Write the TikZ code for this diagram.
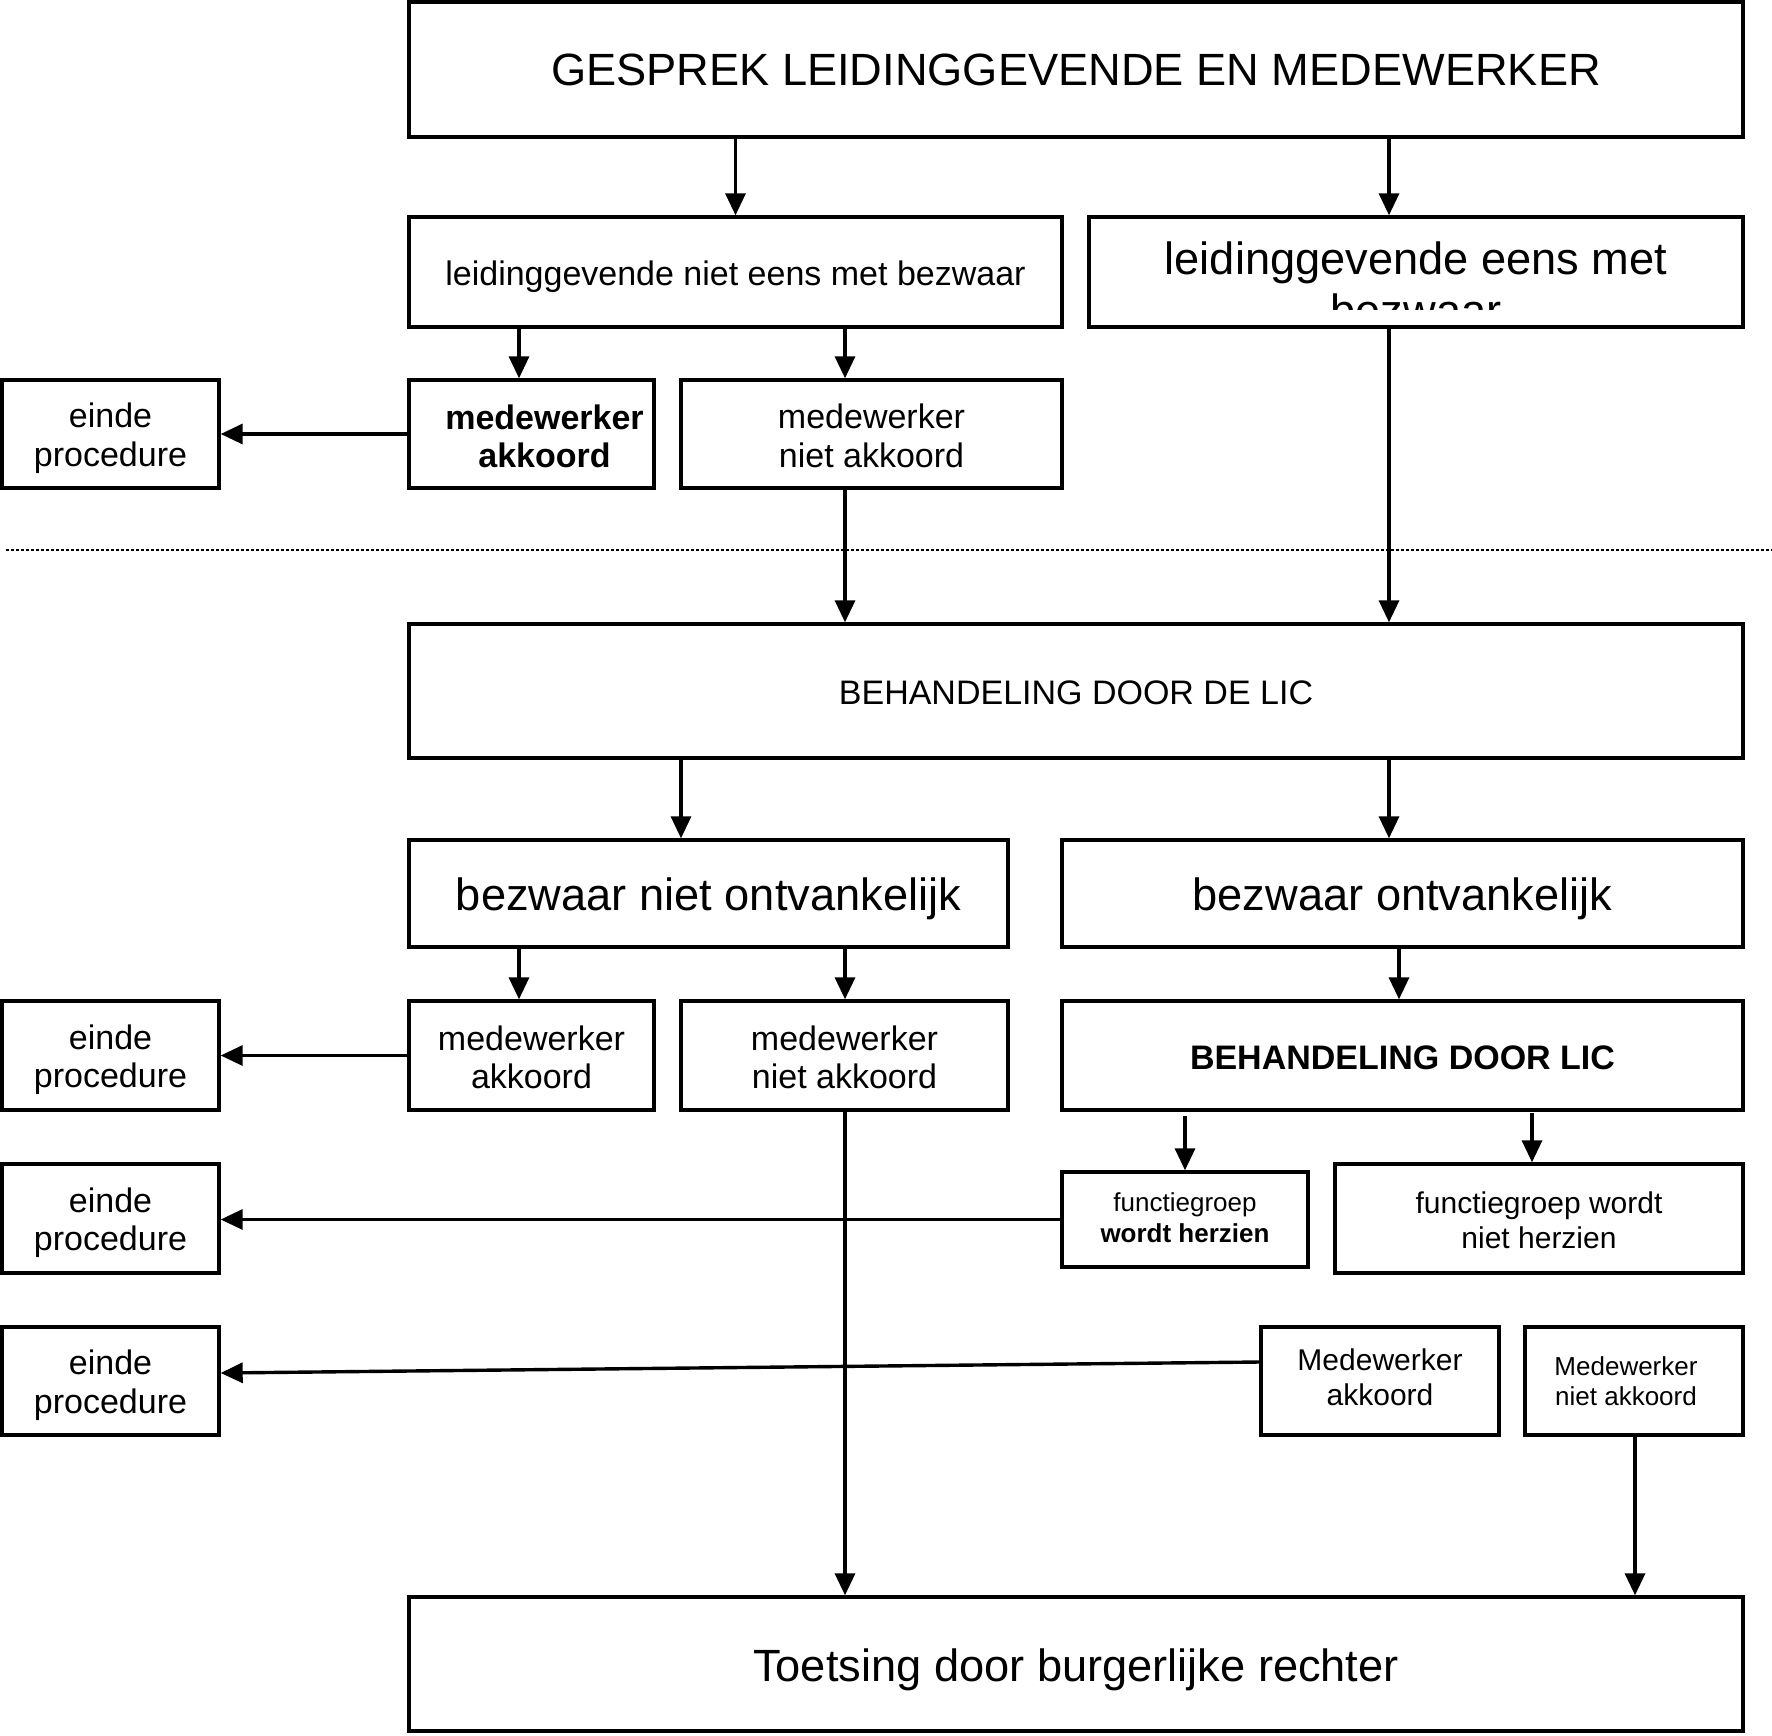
\documentclass[tikz,border=0pt]{standalone}
\usepackage{fontspec}
\setmainfont{Liberation Sans}
\usetikzlibrary{arrows.meta}
\newcommand\fszA{\fontsize{22.6}{26}\selectfont}
\newcommand\fszB{\fontsize{17}{19.2}\selectfont}
\newcommand\fszC{\fontsize{15}{17.5}\selectfont}
\newcommand\fszD{\fontsize{13}{15.3}\selectfont}
\tikzset{
  box/.style={draw, line width=1.7pt, inner sep=0pt},
  arr/.style={line width=1.7pt, -{Triangle[width=10pt,length=11pt]}},
  txt/.style={inner sep=0pt, align=center}
}
\begin{document}
\begin{tikzpicture}[x=0.5pt,y=-0.5pt]
\useasboundingbox (0,0) rectangle (1772,1735);
% column coordinates
\coordinate (xA) at (519,0);
\coordinate (xB) at (845,0);
\coordinate (xC) at (1389,0);
\coordinate (xD) at (681,0);
\coordinate (xE) at (1399,0);
\coordinate (xH) at (1635,0);
\coordinate (fhs) at (1185,1116);
\coordinate (fnhs) at (1532,1113);

% boxes and texts
\node[box, minimum width=667pt, minimum height=67.5pt] (top) at (1076,69.5) {};
\node[txt, font=\fszA] (top-t) at (top.center) {GESPREK LEIDINGGEVENDE EN MEDEWERKER};

\node[box, minimum width=326.5pt, minimum height=55pt] (lnot) at (735.5,272) {};
\node[txt, font=\fszB] (lnot-t) at ([yshift=-2.2pt]lnot.center) {leidinggevende niet eens met bezwaar};

\node[box, minimum width=327pt, minimum height=55pt] (leens) at (1416,272) {};
\begin{scope}
  \clip (1089,218) rectangle (1743,309);
  \node[txt, anchor=north, font=\fszA] (leens-t) at (1416,241) {leidinggevende eens met\\bezwaar};
\end{scope}

\node[box, minimum width=108.5pt, minimum height=54pt] (e1) at (110.5,434) {};
\node[txt, font=\fszB] (e1-t) at ([yshift=-2.2pt]e1.center) {einde\\procedure};
\node[box, minimum width=122.5pt, minimum height=54pt] (ma1) at (531.5,434) {};
\node[txt, font=\fszB\bfseries] (ma1-t) at ([xshift=6.5pt,yshift=-1.1pt]ma1.center) {medewerker\\akkoord};
\node[box, minimum width=190.5pt, minimum height=54pt] (mna1) at (871.5,434) {};
\node[txt, font=\fszB] (mna1-t) at ([yshift=-0.9pt]mna1.center) {medewerker\\niet akkoord};

\draw[line width=1.3pt, dash pattern=on 1.3pt off 1.2pt] (6,550) -- (1772,550);

\node[box, minimum width=667pt, minimum height=67pt] (lic) at (1076,691) {};
\node[txt, font=\fszB] (lic-t) at ([yshift=-1.1pt]lic.center) {BEHANDELING DOOR DE LIC};
\node[box, minimum width=299.5pt, minimum height=53.5pt] (bno) at (708.5,893.5) {};
\node[txt, font=\fszA] (bno-t) at ([yshift=-2.5pt]bno.center) {bezwaar niet ontvankelijk};
\node[box, minimum width=340.5pt, minimum height=53.5pt] (bo) at (1402.5,893.5) {};
\node[txt, font=\fszA] (bo-t) at ([yshift=-2.5pt]bo.center) {bezwaar ontvankelijk};

\node[box, minimum width=108.5pt, minimum height=54.5pt] (e2) at (110.5,1055.5) {};
\node[txt, font=\fszB] (e2-t) at ([yshift=-2.2pt]e2.center) {einde\\procedure};
\node[box, minimum width=122.5pt, minimum height=54.5pt] (ma2) at (531.5,1055.5) {};
\node[txt, font=\fszB] (ma2-t) at ([yshift=-0.9pt]ma2.center) {medewerker\\akkoord};
\node[box, minimum width=163.5pt, minimum height=54.5pt] (mna2) at (844.5,1055.5) {};
\node[txt, font=\fszB] (mna2-t) at ([yshift=-0.9pt]mna2.center) {medewerker\\niet akkoord};
\node[box, minimum width=340.5pt, minimum height=54.5pt] (blic) at (1402.5,1055.5) {};
\node[txt, font=\fszB\bfseries] (blic-t) at ([yshift=-1.1pt]blic.center) {BEHANDELING DOOR LIC};

\node[box, minimum width=108.5pt, minimum height=54.5pt] (e3) at (110.5,1218.5) {};
\node[txt, font=\fszB] (e3-t) at ([yshift=-2.2pt]e3.center) {einde\\procedure};
\node[box, minimum width=123pt, minimum height=47.5pt] (fh) at (1185,1219.5) {};
\node[txt, font=\fszD] (fh-t) at ([yshift=0.8pt]fh.center) {functiegroep\\\textbf{wordt herzien}};
\node[box, minimum width=204pt, minimum height=54.5pt] (fnh) at (1539,1218.5) {};
\node[txt, font=\fszC] (fnh-t) at ([yshift=-0.8pt]fnh.center) {functiegroep wordt\\niet herzien};

\node[box, minimum width=108.5pt, minimum height=54pt] (e4) at (110.5,1381) {};
\node[txt, font=\fszB] (e4-t) at ([yshift=-2pt]e4.center) {einde\\procedure};
\node[box, minimum width=119pt, minimum height=54pt] (Ma) at (1380,1381) {};
\node[txt, font=\fszC] (Ma-t) at ([yshift=2pt]Ma.center) {Medewerker\\akkoord};
\node[box, minimum width=109pt, minimum height=54pt] (Mna) at (1634,1381) {};
\node[txt, font=\fszD] (Mna-t) at ([xshift=-4pt]Mna.center) {Medewerker\\niet akkoord};

\node[box, minimum width=667pt, minimum height=67pt] (bot) at (1076,1664) {};
\node[txt, font=\fszA] (bot-t) at ([yshift=-2.8pt]bot.center) {Toetsing door burgerlijke rechter};

% connectors
\draw[arr] (lnot.north |- top.south) -- (lnot.north);
\draw[arr] (xC |- top.south) -- (xC |- leens.north);
\draw[arr] (xA |- lnot.south) -- (xA |- ma1.north);
\draw[arr] (xB |- lnot.south) -- (xB |- mna1.north);
\draw[arr] (ma1.west) -- (e1.east);
\draw[arr] (xB |- mna1.south) -- (xB |- lic.north);
\draw[arr] (xC |- leens.south) -- (xC |- lic.north);
\draw[arr] (xD |- lic.south) -- (xD |- bno.north);
\draw[arr] (xC |- lic.south) -- (xC |- bo.north);
\draw[arr] (xA |- bno.south) -- (xA |- ma2.north);
\draw[arr] (xB |- bno.south) -- (xB |- mna2.north);
\draw[arr] (xE |- bo.south) -- (xE |- blic.north);
\draw[arr] (ma2.west) -- (e2.east);
\draw[arr] (xB |- mna2.south) -- (xB |- bot.north);
\draw[arr] (fhs) -- (fhs |- fh.north);
\draw[arr] (fnhs) -- (fnhs |- fnh.north);
\draw[arr] (fh.west) -- (fh.west -| e3.east);
\draw[arr] ([yshift=9.5pt]Ma.west) -- ([yshift=4pt]e4.east);
\draw[arr] (xH |- Mna.south) -- (xH |- bot.north);
\end{tikzpicture}
\end{document}
